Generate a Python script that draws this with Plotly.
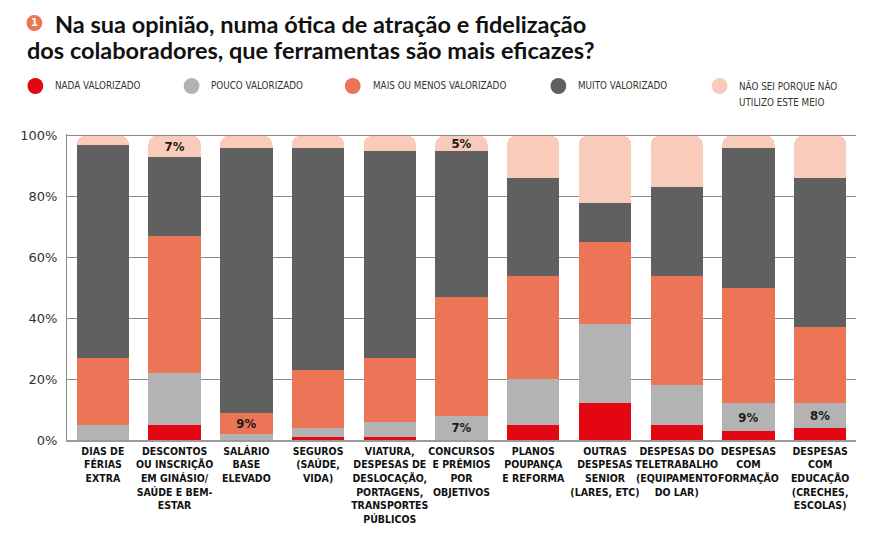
import plotly.graph_objects as go

# ---- data ----
categories = [
    "DIAS DE<br>FÉRIAS<br>EXTRA",
    "DESCONTOS<br>OU INSCRIÇÃO<br>EM GINÁSIO/<br>SAÚDE E BEM-<br>ESTAR",
    "SALÁRIO<br>BASE<br>ELEVADO",
    "SEGUROS<br>(SAÚDE,<br>VIDA)",
    "VIATURA,<br>DESPESAS DE<br>DESLOCAÇÃO,<br>PORTAGENS,<br>TRANSPORTES<br>PÚBLICOS",
    "CONCURSOS<br>E PRÉMIOS<br>POR<br>OBJETIVOS",
    "PLANOS<br>POUPANÇA<br>E REFORMA",
    "OUTRAS<br>DESPESAS<br>SENIOR<br>(LARES, ETC)",
    "DESPESAS DO<br>TELETRABALHO<br>(EQUIPAMENTO<br>DO LAR)",
    "DESPESAS<br>COM<br>FORMAÇÃO",
    "DESPESAS<br>COM<br>EDUCAÇÃO<br>(CRECHES,<br>ESCOLAS)",
]
nada_valorizado = [0, 5, 0, 1, 1, 0, 5, 12, 5, 3, 4]
pouco_valorizado = [5, 17, 2, 3, 5, 8, 15, 26, 13, 9, 8]
mais_ou_menos = [22, 45, 7, 19, 21, 39, 34, 27, 36, 38, 25]
muito_valorizado = [70, 26, 87, 73, 68, 48, 32, 13, 29, 46, 49]
nao_sei = [3, 7, 4, 4, 5, 5, 14, 22, 17, 4, 14]

# value labels printed on the chart
labels_pouco = ["", "", "", "", "", "7%", "", "", "", "9%", "8%"]
labels_mais = ["", "", "9%", "", "", "", "", "", "", "", ""]
labels_nao_sei = ["", "7%", "", "", "", "5%", "", "", "", "", ""]
labels_empty = [""] * len(categories)

series_names = ["NADA VALORIZADO", "POUCO VALORIZADO", "MAIS OU MENOS VALORIZADO",
                "MUITO VALORIZADO", "NÃO SEI PORQUE NÃO<br>UTILIZO ESTE MEIO"]
series_values = [nada_valorizado, pouco_valorizado, mais_ou_menos, muito_valorizado, nao_sei]
series_labels = [labels_empty, labels_pouco, labels_mais, labels_empty, labels_nao_sei]
series_colors = ["#E30613", "#B3B3B3", "#EC7457", "#606060", "#F8CBBA"]

y_ticks = [0, 20, 40, 60, 80, 100]

title_line1 = "Na sua opinião, numa ótica de atração e fidelização"
title_line2 = "dos colaboradores, que ferramentas são mais eficazes?"

# ---- layout geometry (reference pixel coords; page body adds an 8px offset) ----
OFF = 8
W, H = 875 - OFF, 555 - OFF
ML, MR, MT, MB = 58 - OFF, 19, 134 - OFF, 115
PW, PH = W - ML - MR, H - MT - MB


def px_x(p):
    return (p - OFF - ML) / PW


def px_y(p):
    return (H - MB - (p - OFF)) / PH


COND = "Liberation Sans Narrow, DejaVu Sans Condensed, Arial Narrow, sans-serif"
TITLE_FONT = "Lato, Roboto, sans-serif"

fig = go.Figure()
for name, vals, labs, col in zip(series_names, series_values, series_labels, series_colors):
    fig.add_trace(go.Bar(
        x=categories, y=vals, name=name, marker=dict(color=col, line=dict(width=0)),
        text=labs, textposition="inside", insidetextanchor="middle", constraintext="none",
        textangle=0, textfont=dict(family=COND, size=13, color="#1a1a1a", weight="bold"),
        hoverinfo="skip", showlegend=False,
    ))

annotations = [
    dict(text=title_line1, x=px_x(44), y=px_y(24), xref="paper", yref="paper",
         xanchor="left", yanchor="middle", showarrow=False,
         font=dict(family=TITLE_FONT, size=23.5, color="#111111", weight="bold")),
    dict(text=title_line2, x=px_x(16), y=px_y(50), xref="paper", yref="paper",
         xanchor="left", yanchor="middle", showarrow=False,
         font=dict(family=TITLE_FONT, size=23.5, color="#111111", weight="bold")),
    dict(text="1", x=px_x(25), y=px_y(23), xref="paper", yref="paper",
         xanchor="center", yanchor="middle", showarrow=False,
         font=dict(family="DejaVu Sans", size=10, color="white", weight="bold")),
]
shapes = [
    dict(type="circle", xref="paper", yref="paper",
         x0=px_x(25 - 8), x1=px_x(25 + 8), y0=px_y(23 - 8), y1=px_y(23 + 8),
         fillcolor="#EC7457", line=dict(width=0)),
]

legend_circle_x = [26, 184, 347, 555, 718]
for cx, name, col in zip(legend_circle_x, series_names, series_colors):
    shapes.append(dict(type="circle", xref="paper", yref="paper",
                       x0=px_x(cx - 8), x1=px_x(cx + 8), y0=px_y(86 - 8), y1=px_y(86 + 8),
                       fillcolor=col, line=dict(width=0)))
    for i, line in enumerate(name.split("<br>")):
        annotations.append(dict(
            text=line, x=px_x(cx + 18), y=px_y(86 + 17 * i), xref="paper", yref="paper",
            xanchor="left", yanchor="middle", align="left", showarrow=False,
            font=dict(family=COND, size=9.8, color="#333333")))

fig.update_layout(
    width=W, height=H,
    margin=dict(l=ML, r=MR, t=MT, b=MB, pad=0),
    barmode="stack", bargap=0.27, barcornerradius=9,
    plot_bgcolor="white", paper_bgcolor="white",
    annotations=annotations, shapes=shapes,
    uniformtext=dict(mode="show", minsize=12),
    xaxis=dict(
        showgrid=False, showline=True, linecolor="#9a9a9a", linewidth=2,
        tickfont=dict(family=COND, size=10.5, color="#111111", weight="bold"),
        ticks="", tickangle=0, fixedrange=True,
    ),
    yaxis=dict(
        range=[0, 100.5], tickvals=y_ticks, ticktext=[f"{v}%" for v in y_ticks],
        showgrid=True, gridcolor="#8a8a8a", gridwidth=1,
        showline=True, linecolor="#8a8a8a", linewidth=1, zeroline=False,
        tickfont=dict(family="DejaVu Sans", size=13, color="#333333"),
        ticks="", ticklabelstandoff=6, fixedrange=True,
    ),
)

fig.write_html("out.html")
